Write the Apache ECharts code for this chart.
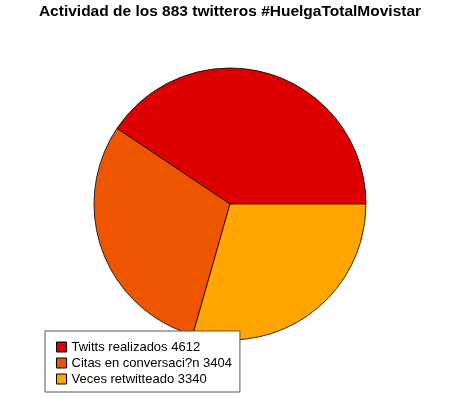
<!DOCTYPE html>
<html><head><meta charset="utf-8">
<script src="https://cdn.jsdelivr.net/npm/echarts@6/dist/echarts.min.js"></script>
<style>html,body{margin:0;padding:0;background:#fff}#c{width:460px;height:408px}</style>
</head><body><div id="c"></div>
<script>
const categories = ['Twitts realizados', 'Citas en conversaci?n', 'Veces retwitteado'];
const values = [4612, 3404, 3340];
const colors = ['#DD0000', '#EE5500', '#FFA500'];
const titleText = 'Actividad de los 883 twitteros #HuelgaTotalMovistar';

const chart = echarts.init(document.getElementById('c'), null, {renderer: 'canvas'});
chart.setOption({
  animation: false,
  backgroundColor: '#fff',
  title: {
    text: titleText, left: 'center', top: -1,
    textStyle: {fontFamily: 'Liberation Sans, Arial', fontWeight: 'bold', fontSize: 15.5, color: '#000'}
  },
  legend: {
    orient: 'vertical', left: 45, top: 331,
    padding: [8, 8, 5, 11],
    backgroundColor: '#fff', borderColor: '#555', borderWidth: 1,
    itemWidth: 10, itemHeight: 10, itemGap: 0, itemTextGap: 11,
    icon: 'rect',
    selectedMode: false,
    itemStyle: {borderColor: '#000', borderWidth: 1},
    textStyle: {fontFamily: 'Liberation Sans, Arial', fontSize: 13, lineHeight: 16, color: '#000'},
    formatter: function (n) { return n + ' ' + values[categories.indexOf(n)]; },
    data: categories
  },
  series: [{
    type: 'pie',
    center: [230, 204],
    radius: 136,
    startAngle: 0,
    clockwise: false,
    label: {show: false},
    labelLine: {show: false},
    emphasis: {disabled: true},
    itemStyle: {borderColor: '#000', borderWidth: 0.8},
    data: categories.map((c, i) => ({name: c, value: values[i], itemStyle: {color: colors[i]}}))
  }]
});
</script></body></html>
